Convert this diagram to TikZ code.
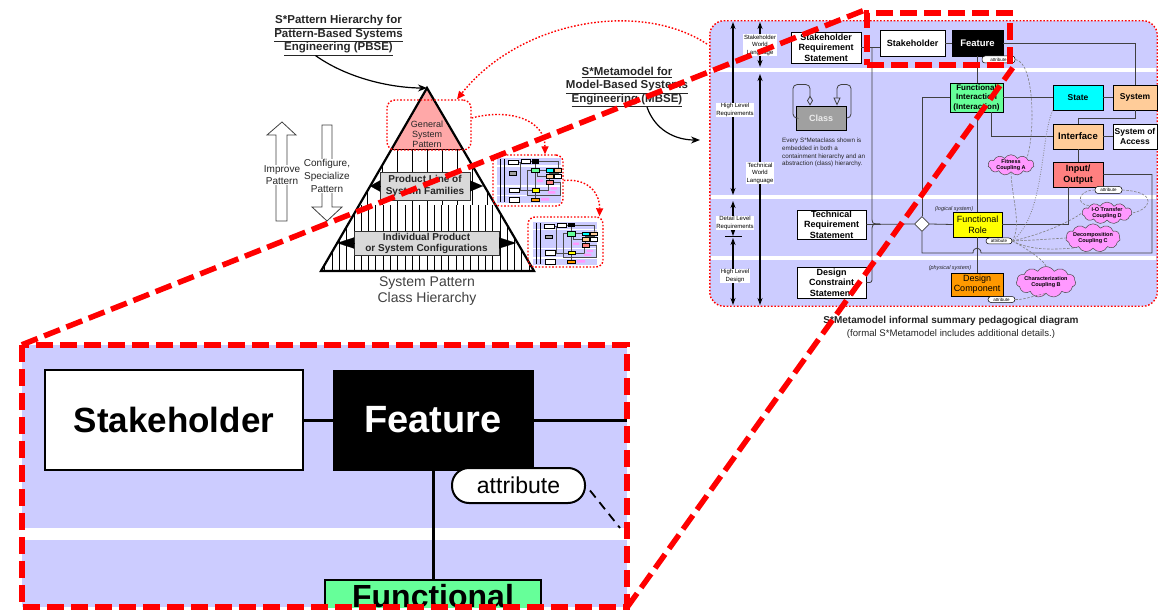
\documentclass[tikz,border=0pt]{standalone}
\usepackage{fontspec}
\setmainfont{Liberation Sans}
\usetikzlibrary{arrows.meta,shapes.geometric,shapes.symbols}
\definecolor{lav}{HTML}{CCCCFF}
\definecolor{pinktop}{HTML}{FFA8A8}
\definecolor{gboxc}{HTML}{D9D9D9}
\definecolor{figreen}{HTML}{66FF99}
\definecolor{stcyan}{HTML}{00FFFF}
\definecolor{lorange}{HTML}{FFCC99}
\definecolor{iored}{HTML}{FF8080}
\definecolor{fryel}{HTML}{FFFF00}
\definecolor{dcor}{HTML}{FF9900}
\definecolor{cpink}{HTML}{FF99FF}
\definecolor{clsgray}{HTML}{A0A0A0}
\definecolor{txt}{HTML}{262626}
\newcommand\minimeta{%
  \fill[lav] (710,21) rectangle (1157,306);
  \fill[white] (710,65) rectangle (1157,75);
  \fill[white] (710,192) rectangle (1157,202);
  \fill[white] (710,253) rectangle (1157,263);
  \draw[line width=0.35pt] (733,26) -- (733,300) (760,26) -- (760,300);
  \draw[line width=0.3pt, black!70] (861,47) -- (880,47) (945,43) -- (952,43)
     (1003,43) -- (1137,43) -- (1137,85) (977,56) -- (977,273)
     (1003,97) -- (1113,97) (1078,110) -- (1078,162)
     (872,47) -- (872,224) -- (953,224) (866,282) -- (872,282)
     (922,97) -- (950,97) (922,97) -- (922,253) -- (1152,253) -- (1152,174) -- (1103,174)
     (1002,224) -- (1068,224) -- (1068,187) (1137,110) -- (1137,118) -- (1078,118)
     (991,112) -- (991,136) -- (1053,136);
  \filldraw[fill=white, line width=0.3pt] (791,32) rectangle (861,63) (880,30) rectangle (945,56)
     (797,210) rectangle (866,239) (797,267) rectangle (866,298) (1113,124) rectangle (1157,149);
  \fill[black] (952,30) rectangle (1003,56);
  \filldraw[fill=clsgray, line width=0.3pt] (796,106) rectangle (846,130);
  \filldraw[fill=figreen, line width=0.3pt] (950,83) rectangle (1003,112);
  \filldraw[fill=stcyan, line width=0.3pt] (1053,85) rectangle (1103,110);
  \filldraw[fill=lorange, line width=0.3pt] (1113,85) rectangle (1157,110) (1053,124) rectangle (1103,149);
  \filldraw[fill=iored, line width=0.3pt] (1053,162) rectangle (1103,187);
  \filldraw[fill=fryel, line width=0.3pt] (953,212) rectangle (1002,237);
  \filldraw[fill=dcor, line width=0.3pt] (951,273) rectangle (1003,296);
  \fill[cpink] (990,157) rectangle (1032,173) (1085,205) rectangle (1130,221) (1068,230) rectangle (1118,246) (1018,274) rectangle (1074,290);
}
\begin{document}
\begin{tikzpicture}[x=1pt,y=-1pt,
  title/.style={align=center, inner sep=0pt, text=txt, font=\fontsize{11.5}{13.5}\selectfont\bfseries},
  blockarr/.style={draw=black!75, line width=0.8pt, fill=white, line join=miter},
  gbox/.style={draw=black!80, line width=0.8pt, fill=gboxc, inner sep=0pt, align=center, text=txt},
  rdot/.style={draw=red, line width=1.4pt, dash pattern=on 1.6pt off 1.8pt},
  rdarr/.style={rdot, -{Triangle[length=8pt, width=7pt, fill=red]}},
  bigdash/.style={draw=red, line width=5.5pt, dash pattern=on 17pt off 7pt},
  mb/.style={draw=black, line width=0.8pt, fill=white, inner sep=0pt, align=center, font=\fontsize{9}{10.5}\selectfont\bfseries},
  ln/.style={draw=black!75, line width=0.8pt},
  scl/.style={{Stealth[length=7pt,width=5pt]}-{Stealth[length=7pt,width=5pt]}, line width=1.2pt},
  lbl/.style={fill=white, inner sep=0.6pt, align=center, font=\fontsize{6}{7.5}\selectfont},
  attr/.style={draw=black, line width=0.5pt, fill=white, rounded corners=3pt, inner sep=0pt, minimum width=27pt, minimum height=7pt, font=\fontsize{4.5}{5}\selectfont},
  cpl/.style={cloud, cloud puffs=11, cloud puff arc=120, aspect=2.6, draw=black!70, line width=0.5pt, fill=cpink, inner sep=-1pt, align=center, font=\fontsize{5.5}{6.5}\selectfont\bfseries},
  cpline/.style={draw=black!50, line width=0.6pt, dash pattern=on 2.5pt off 1.5pt},
  cpdot/.style={draw=black!50, line width=0.8pt, dash pattern=on 0.8pt off 1.6pt},
]
\useasboundingbox (0,0) rectangle (1158,612);

% ================= PBSE side =================
\node[title] (ptitle) at (338.5,35.5) {\underline{S*Pattern Hierarchy for}\\\underline{Pattern-Based Systems}\\\underline{Engineering (PBSE)}};
\node[title] (mtitle) at (627,87) {\underline{S*Metamodel for}\\\underline{Model-Based Systems}\\\underline{Engineering (MBSE)}};

\coordinate (apex) at (427,88);
\coordinate (bl) at (321,271);
\coordinate (br) at (534,271);
\fill[pinktop] (apex) -- (391.5,149) -- (462.5,149) -- cycle;
\begin{scope}
  \clip (apex) -- (bl) -- (br) -- cycle;
  \foreach \i in {-6,...,6} \draw[line width=0.9pt] (427+15*\i,149) -- (427+15*\i,205);
  \foreach \i in {-15,...,15} \draw[line width=0.9pt] (427+7.3*\i,205) -- (427+7.3*\i,271);
\end{scope}
\draw[line width=0.9pt] (391.5,149) -- (462.5,149);
\draw[line width=2.2pt, line join=miter] (apex) -- (bl) -- (br) -- cycle;

\node[gbox, minimum width=90pt, minimum height=28pt, font=\fontsize{10}{12}\selectfont\bfseries] (pl) at (425,186) {Product Line of\\System Families};
\coordinate (plL) at (370,186);
\coordinate (plR) at (483,186);
\draw[-{Triangle[length=10pt,width=11pt]}, line width=0.1pt] (pl.west) -- (plL);
\draw[-{Triangle[length=13pt,width=11pt]}, line width=0.1pt] (pl.east) -- (plR);
\node[gbox, minimum width=145pt, minimum height=24pt, font=\fontsize{10}{11}\selectfont\bfseries] (ip) at (426.5,243) {Individual Product\\or System Configurations};
\coordinate (ipL) at (337,243);
\coordinate (ipR) at (516,243);
\draw[-{Triangle[length=17pt,width=11pt]}, line width=0.1pt] (ip.west) -- (ipL);
\draw[-{Triangle[length=17pt,width=11pt]}, line width=0.1pt] (ip.east) -- (ipR);

\node[align=center, inner sep=0pt, text=txt, font=\fontsize{9}{10}\selectfont] (gsp) at (427,134) {General\\System\\Pattern};
\node[rdot, rounded corners=8pt, minimum width=84pt, minimum height=50pt, inner sep=0pt] (gsprect) at (429,125) {};
\node[align=center, inner sep=0pt, text=black!75, font=\fontsize{14}{16.5}\selectfont] (sph) at (427,291) {System Pattern\\Class Hierarchy};

\draw[blockarr] (282,122) -- (296,135) -- (287,135) -- (287,221) -- (276,221) -- (276,135) -- (267,135) -- cycle;
\draw[blockarr] (327,221) -- (342,207) -- (332,207) -- (332,125) -- (322,125) -- (322,207) -- (312,207) -- cycle;
\node[fill=white, inner sep=0.5pt, align=center, text=txt, font=\fontsize{10}{12.5}\selectfont] (imp) at (282,175) {Improve\\Pattern};
\node[fill=white, inner sep=0.5pt, align=center, text=txt, font=\fontsize{10}{13}\selectfont] (cfg) at (327,176) {Configure,\\Specialize\\Pattern};

\draw[line width=1.2pt, -{Stealth[length=9pt,width=7pt]}] ([xshift=-23pt]ptitle.south) .. controls (350,80) and (395,88) .. (apex);
\coordinate (mend) at (700,140);
\draw[line width=1.2pt, -{Stealth[length=9pt,width=7pt]}] ([xshift=20pt]mtitle.south) .. controls (655,130) and (675,140) .. (mend);

% thumbnails
\begin{scope}[shift={(497,158)}, xscale=0.143, yscale=0.158, shift={(-710,-21)}]
  \minimeta
\end{scope}
\begin{scope}[shift={(533,222)}, xscale=0.143, yscale=0.151, shift={(-710,-21)}]
  \minimeta
\end{scope}
\node[rdot, rounded corners=7pt, minimum width=70pt, minimum height=51pt, inner sep=0pt] (th1) at (528,180.5) {};
\node[rdot, rounded corners=7pt, minimum width=75pt, minimum height=50pt, inner sep=0pt] (th2) at (565.5,242) {};

% ================= Metamodel =================
\node[fill=lav, rounded corners=14pt, minimum width=447pt, minimum height=285pt, inner sep=0pt] (panel) at (933.5,163.5) {};
\fill[white] (711,68) rectangle (1156,72);
\fill[white] (711,195) rectangle (1156,199);
\fill[white] (711,256) rectangle (1156,260);
\draw[rdot, rounded corners=14pt] (panel.north west) rectangle (panel.south east);

\coordinate (pa) at (707,44);
\draw[rdarr] (pa) .. controls (640,0) and (520,20) .. ([xshift=28pt]gsprect.north);
\draw[rdarr] ([yshift=7pt]gsprect.east) .. controls (510,108) and (545,120) .. ([xshift=17pt]th1.north);
\draw[rdarr] (th1.east) .. controls (590,178) and (600,195) .. ([xshift=34pt]th2.north);

\draw[scl] (733,22) -- (733,195);
\draw[scl] (733,201) -- (733,236);
\draw[line width=1pt] (725,237) -- (742,237);
\draw[scl] (733,238) -- (733,305);
\draw[scl] (760,22) -- (760,67);
\draw[scl] (760,74) -- (760,305);
\node[lbl] (l1) at (760,45) {Stakeholder\\World\\Language};
\node[lbl] (l2) at (735,110) {High Level\\Requirements};
\node[lbl] (l3) at (760,173) {Technical\\World\\Language};
\node[lbl] (l4) at (735,223) {Detail Level\\Requirements};
\node[lbl] (l5) at (735,276) {High Level\\Design};

\node[mb, minimum width=70pt, minimum height=31pt] (srs) at (826,47.5) {Stakeholder\\Requirement\\Statement};
\node[mb, minimum width=65pt, minimum height=26pt] (stk) at (912.5,43) {Stakeholder};
\node[mb, fill=black, text=white, font=\fontsize{9.5}{11}\selectfont\bfseries, minimum width=51pt, minimum height=26pt] (feat) at (977.5,43) {Feature};
\node[mb, fill=clsgray, text=black!8, minimum width=50pt, minimum height=24pt] (cls) at (821,118) {Class};
\node[mb, fill=figreen, font=\fontsize{8}{9.5}\selectfont\bfseries, minimum width=53pt, minimum height=29pt] (fi) at (976.5,97.5) {Functional\\Interaction\\(Interaction)};
\node[mb, fill=stcyan, font=\fontsize{8.5}{10}\selectfont\bfseries, minimum width=50pt, minimum height=25pt] (state) at (1078,97.5) {State};
\node[mb, fill=lorange, font=\fontsize{8.5}{10}\selectfont\bfseries, minimum width=44pt, minimum height=25pt] (sys) at (1135,97.5) {System};
\node[mb, fill=lorange, font=\fontsize{9.5}{11}\selectfont\bfseries, minimum width=50pt, minimum height=25pt] (intf) at (1078,136.5) {Interface};
\node[mb, font=\fontsize{8.5}{10}\selectfont\bfseries, minimum width=44pt, minimum height=25pt] (soa) at (1135,136.5) {System of\\Access};
\node[mb, fill=iored, font=\fontsize{9}{11.5}\selectfont\bfseries, minimum width=50pt, minimum height=25pt] (io) at (1078,174.5) {Input/\\Output};
\node[mb, minimum width=69pt, minimum height=29pt] (trs) at (831.5,224.5) {Technical\\Requirement\\Statement};
\node[mb, minimum width=69pt, minimum height=31pt] (dcs) at (831.5,282.5) {Design\\Constraint\\Statement};
\node[mb, fill=fryel, font=\fontsize{9}{11}\selectfont, minimum width=49pt, minimum height=25pt] (fr) at (977.5,224.5) {Functional\\Role};
\node[mb, fill=dcor, font=\fontsize{9}{10}\selectfont, minimum width=52pt, minimum height=23pt] (dc) at (977,284.5) {Design\\Component};
\node[diamond, draw=black!75, line width=0.8pt, fill=white, minimum width=15pt, minimum height=15pt, inner sep=0pt] (dia) at (922,224) {};
\node[font=\fontsize{5.5}{6}\selectfont\itshape, inner sep=0pt, text=txt] (lsys) at (954,209) {(logical system)};
\node[font=\fontsize{5.5}{6}\selectfont\itshape, inner sep=0pt, text=txt] (psys) at (950,268) {(physical system)};
\node[anchor=north west, align=left, inner sep=0pt, text=txt, font=\fontsize{6.3}{7.7}\selectfont] (every) at (782,138) {Every S*Metaclass shown is\\embedded in both a\\containment hierarchy and an\\abstraction (class) hierarchy.};

% connectors
\draw[ln] (srs.east) -- (srs.east -| stk.west);
\coordinate (bus) at (872,47.5);
\draw[ln] (stk.east) -- (feat.west);
\draw[ln] (feat.east) -| (sys.north);
\draw[ln] (feat.south) -- (feat.south |- fi.north);
\draw[ln] (fi.south -| feat.south) -- (fr.north);
\draw[ln] (fr.south) -- (fr.south |- dc.north);
\draw[ln] (fi.east) -- (state.west);
\draw[ln] (state.east) -- (sys.west);
\draw[ln] (sys.south) -- ++(0,8) -| (intf.north);
\draw[ln] ([xshift=14.5pt]fi.south) |- (intf.west);
\draw[ln] (intf.east) -- (soa.west);
\draw[ln] (intf.south) -- (io.north);
\draw[ln] (io.east) -- (1152,174.5) -- (1152,253) -- (981,253) .. controls (981,246.5) and (973,246.5) .. (973,253) -- (922,253) -- (dia.south);
\draw[ln] (fr.east) -| ([xshift=-10pt]io.south);
\draw[ln] (dia.east) -- (fr.west);
\draw[ln] (dia.north) |- (fi.west);
\draw[ln] (trs.east) -- (dia.west);
\draw[ln] (bus) -- (872,216) .. controls (872,224) .. (880,224);
\draw[ln] (dcs.east) -- (867,282.5) .. controls (872,282.5) .. (872,277) -- (872,232) .. controls (872,224) .. (880,224);
\draw[ln, rounded corners=4pt, {Diamond[open, length=10pt, width=6pt]}-] ([xshift=-11pt]cls.north) -- ++(0,-21) -- ++(-17,0) |- (cls.west);
\draw[ln, rounded corners=4pt, {Triangle[open, length=8pt, width=7pt]}-] ([xshift=16pt]cls.north) -- ++(0,-21) -- ++(14,0) |- (cls.east);

% attributes and couplings
\node[attr, minimum width=33pt] (featattr) at (998.5,59.5) {attribute};
\node[attr] (ioattr) at (1108.5,190) {attribute};
\node[attr, minimum width=26pt, minimum height=6pt] (frattr) at (999,241) {attribute};
\node[attr, minimum height=6pt] (dcattr) at (1001.5,299.5) {attribute};
\node[cpl, minimum width=46pt, minimum height=20pt] (cA) at (1011,165) {Fitness\\Coupling A};
\node[cpl, minimum width=50pt, minimum height=20pt] (cD) at (1107,213) {I-O Transfer\\Coupling D};
\node[cpl, minimum width=54pt, minimum height=20pt] (cC) at (1093,238) {Decomposition\\Coupling C};
\node[cpl, minimum width=58pt, minimum height=20pt] (cB) at (1046,282) {Characterization\\Coupling B};
\begin{scope}[on background layer/.style={}]
\draw[cpline] (featattr.east) .. controls (1035,62) and (1035,135) .. (cA.north east);
\draw[cpline] (cA.south) .. controls (1012,200) and (1022,225) .. (frattr.east);
\draw[cpdot] (state.south west) .. controls (1040,140) and (1045,215) .. (frattr.east);
\draw[cpline] (frattr.east) .. controls (1040,235) and (1070,222) .. (cD.west);
\draw[cpline] (frattr.east) .. controls (1035,240) .. (cC.west);
\draw[cpline] (frattr.east) .. controls (1030,250) and (1050,250) .. (cC.south west);
\draw[cpline] (frattr.east) .. controls (1030,250) and (1045,262) .. (cB.north);
\draw[cpline] (ioattr.west) .. controls (1078,190) and (1075,205) .. (cD.north west);
\draw[cpline] (ioattr.east) .. controls (1160,192) and (1150,210) .. (cD.east);
\draw[cpline] (dcattr.east) .. controls (1025,300) and (1035,295) .. (cB.south);
\end{scope}

\node[font=\fontsize{10}{12}\selectfont\bfseries, text=txt, inner sep=0pt] (cap1) at (951,321) {S*Metamodel informal summary pedagogical diagram};
\node[font=\fontsize{9.6}{12}\selectfont, text=txt, inner sep=0pt] (cap2) at (951,334) {(formal S*Metamodel includes additional details.)};

% ================= Inset =================
\node[fill=lav, minimum width=605pt, minimum height=262pt, inner sep=0pt] (inset) at (324.5,476) {};
\begin{scope}
  \clip (inset.north west) rectangle (inset.south east);
  \fill[white] (22,528) rectangle (627,540);
  \node[draw=black, line width=2pt, fill=white, minimum width=258pt, minimum height=100pt, font=\fontsize{35}{40}\selectfont\bfseries] (istk) at (174,420) {Stakeholder};
  \node[fill=black, draw=black, minimum width=200pt, minimum height=100pt, text=white, font=\fontsize{38}{44}\selectfont\bfseries] (ifeat) at (433,420) {Feature};
  \draw[line width=3pt] (istk.east) -- (ifeat.west);
  \draw[line width=3pt] (ifeat.east) -- (ifeat.east -| inset.east);
  \node[draw=black, line width=2pt, fill=white, rounded corners=17pt, minimum width=133pt, minimum height=35pt, font=\fontsize{23}{26}\selectfont] (iattr) at (518.5,485.5) {attribute};
  \coordinate (iend) at (620,528);
  \draw[line width=1.8pt, dash pattern=on 9pt off 6pt] ([shift={(4,5)}]iattr.east) -- (iend);
  \node[draw=black, line width=2pt, fill=figreen, anchor=north, minimum width=216pt, inner ysep=3pt, text height=24pt, text depth=20pt, font=\fontsize{32}{36}\selectfont\bfseries] (ifun) at (433,579) {Functional};
  \draw[line width=3pt] (ifeat.south) -- (ifun.north);
\end{scope}

% ================= big red dashed zoom lines =================
\node[bigdash, minimum width=143pt, minimum height=52pt, inner sep=0pt] (zoomr) at (938.5,39) {};
\draw[bigdash] (inset.north west) rectangle (inset.south east);
\draw[bigdash] (inset.north west) -- (zoomr.north west);
\draw[bigdash] (inset.south east) -- (zoomr.south east);
\end{tikzpicture}
\end{document}
